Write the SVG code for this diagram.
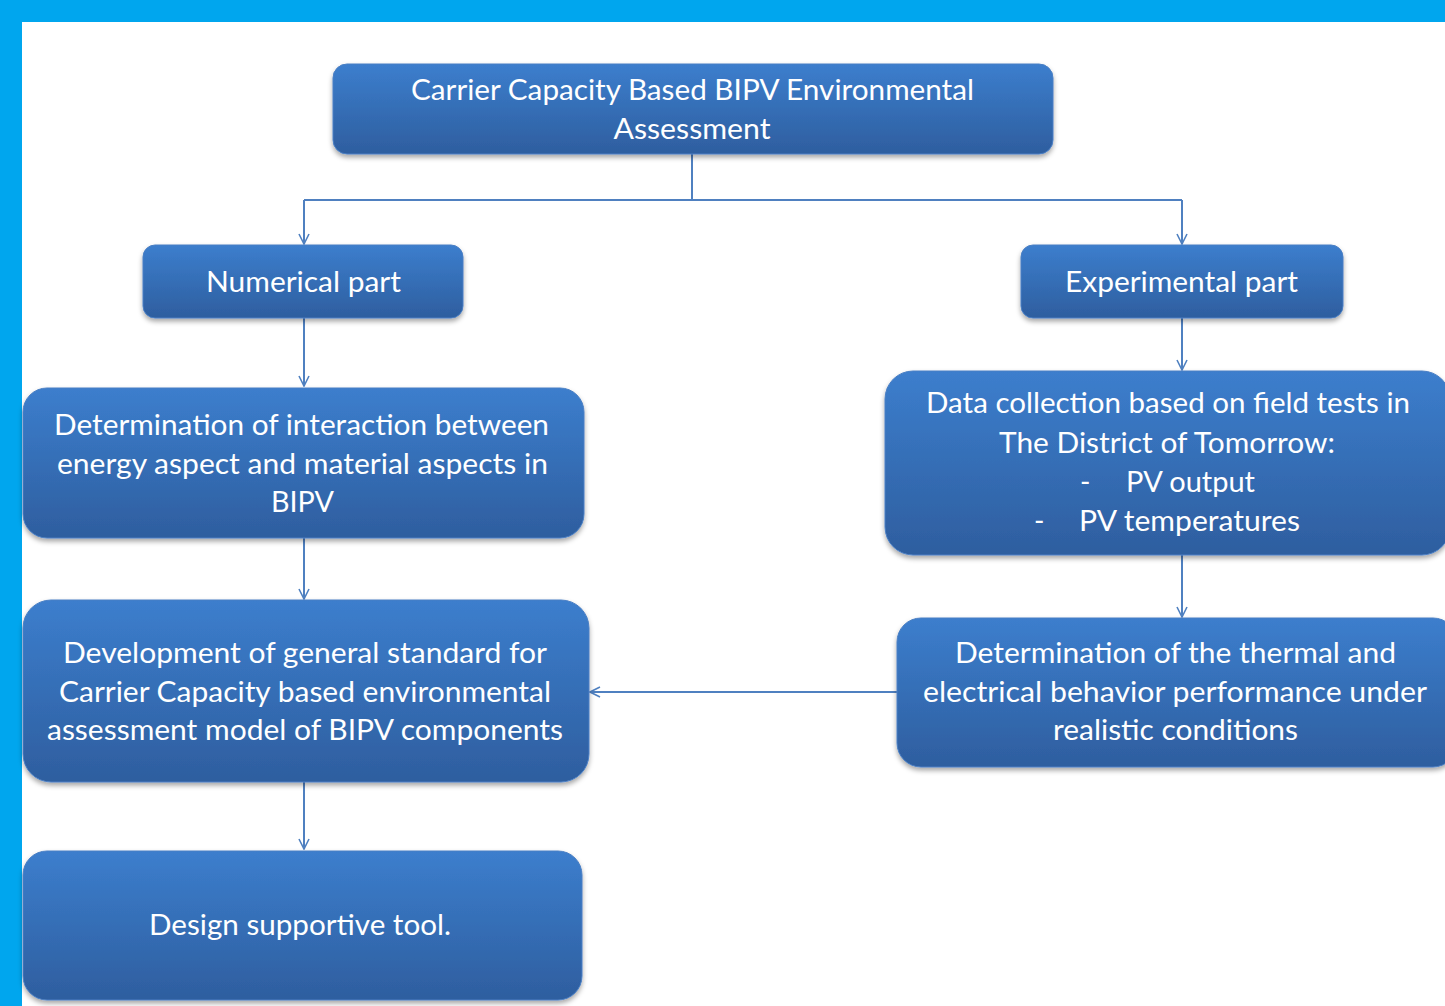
<svg xmlns="http://www.w3.org/2000/svg" width="1445" height="1006" viewBox="0 0 1445 1006">
  <defs>
    <linearGradient id="boxFill" x1="0" y1="0" x2="0" y2="1">
      <stop offset="0" stop-color="#3c7ecd"/>
      <stop offset="1" stop-color="#2e5e9f"/>
    </linearGradient>
    <filter id="shadow" x="-5%" y="-10%" width="110%" height="130%">
      <feDropShadow dx="0" dy="3" stdDeviation="2.5" flood-color="#000" flood-opacity="0.35"/>
    </filter>
    <marker id="arrow" viewBox="0 0 12 12" refX="11" refY="6" markerWidth="12" markerHeight="12" markerUnits="userSpaceOnUse" orient="auto">
      <path d="M1,1 L11,6 L1,11" fill="none" stroke="#4f80c0" stroke-width="1.6"/>
    </marker>
    <style>
      .box { fill: url(#boxFill); stroke: #4a7fc4; stroke-width: 1; filter: url(#shadow); }
      .lbl { font-family: Lato, "Liberation Sans", sans-serif; font-size: 28px; fill: #ffffff; text-anchor: middle; }
      .lbl-l { font-family: Lato, "Liberation Sans", sans-serif; font-size: 28px; fill: #ffffff; text-anchor: start; }
      .conn { fill: none; stroke: #4f80c0; stroke-width: 2; }
    </style>
  </defs>

  <!-- page frame -->
  <rect x="0" y="0" width="1445" height="1006" fill="#00a6ee"/>
  <rect x="22" y="22" width="1423" height="984" fill="#ffffff"/>

  <!-- connectors -->
  <g id="connectors">
    <path class="conn" d="M692,154 V200"/>
    <path class="conn" d="M304,200 H1182"/>
    <path class="conn" d="M304,200 V244" marker-end="url(#arrow)"/>
    <path class="conn" d="M1182,200 V244" marker-end="url(#arrow)"/>
    <path class="conn" d="M304,318 V386" marker-end="url(#arrow)"/>
    <path class="conn" d="M304,538 V599" marker-end="url(#arrow)"/>
    <path class="conn" d="M304,782 V849" marker-end="url(#arrow)"/>
    <path class="conn" d="M1182,318 V370" marker-end="url(#arrow)"/>
    <path class="conn" d="M1182,555 V617" marker-end="url(#arrow)"/>
    <path class="conn" d="M897,692 H590" marker-end="url(#arrow)"/>
  </g>

  <!-- nodes -->
  <g id="node-root">
    <rect class="box" x="333" y="64" width="720" height="90" rx="14"/>
    <text class="lbl" x="692.5" y="100" textLength="563" lengthAdjust="spacingAndGlyphs">Carrier Capacity Based BIPV Environmental</text>
    <text class="lbl" x="692" y="139" textLength="157" lengthAdjust="spacingAndGlyphs">Assessment</text>
  </g>

  <g id="node-numerical">
    <rect class="box" x="143" y="245" width="320" height="73" rx="12"/>
    <text class="lbl" x="303.5" y="292" textLength="195" lengthAdjust="spacingAndGlyphs">Numerical part</text>
  </g>

  <g id="node-experimental">
    <rect class="box" x="1021" y="245" width="322" height="73" rx="12"/>
    <text class="lbl" x="1181.5" y="292" textLength="233" lengthAdjust="spacingAndGlyphs">Experimental part</text>
  </g>

  <g id="node-interaction">
    <rect class="box" x="23" y="388" width="561" height="150" rx="24"/>
    <text class="lbl" x="301.5" y="435" textLength="495" lengthAdjust="spacingAndGlyphs">Determination of interaction between</text>
    <text class="lbl" x="302.5" y="474" textLength="491" lengthAdjust="spacingAndGlyphs">energy aspect and material aspects in</text>
    <text class="lbl" x="302.5" y="512" textLength="63" lengthAdjust="spacingAndGlyphs">BIPV</text>
  </g>

  <g id="node-data-collection">
    <rect class="box" x="885" y="371" width="565" height="184" rx="28"/>
    <text class="lbl" x="1168" y="413" textLength="484" lengthAdjust="spacingAndGlyphs">Data collection based on field tests in</text>
    <text class="lbl" x="1167" y="453" textLength="336" lengthAdjust="spacingAndGlyphs">The District of Tomorrow:</text>
    <text class="lbl-l" x="1080" y="492">-</text>
    <text class="lbl-l" x="1126" y="492" textLength="129" lengthAdjust="spacingAndGlyphs">PV output</text>
    <text class="lbl-l" x="1034" y="531">-</text>
    <text class="lbl-l" x="1079" y="531" textLength="221" lengthAdjust="spacingAndGlyphs">PV temperatures</text>
  </g>

  <g id="node-standard">
    <rect class="box" x="23" y="600" width="566" height="182" rx="28"/>
    <text class="lbl" x="305" y="663" textLength="484" lengthAdjust="spacingAndGlyphs">Development of general standard for</text>
    <text class="lbl" x="305" y="702" textLength="492" lengthAdjust="spacingAndGlyphs">Carrier Capacity based environmental</text>
    <text class="lbl" x="305" y="740" textLength="516" lengthAdjust="spacingAndGlyphs">assessment model of BIPV components</text>
  </g>

  <g id="node-thermal">
    <rect class="box" x="897" y="618" width="560" height="149" rx="24"/>
    <text class="lbl" x="1175.5" y="663" textLength="441" lengthAdjust="spacingAndGlyphs">Determination of the thermal and</text>
    <text class="lbl" x="1175" y="702" textLength="504" lengthAdjust="spacingAndGlyphs">electrical behavior performance under</text>
    <text class="lbl" x="1175.5" y="740" textLength="245" lengthAdjust="spacingAndGlyphs">realistic conditions</text>
  </g>

  <g id="node-tool">
    <rect class="box" x="23" y="851" width="559" height="149" rx="24"/>
    <text class="lbl" x="300" y="935" textLength="302" lengthAdjust="spacingAndGlyphs">Design supportive tool.</text>
  </g>
</svg>
